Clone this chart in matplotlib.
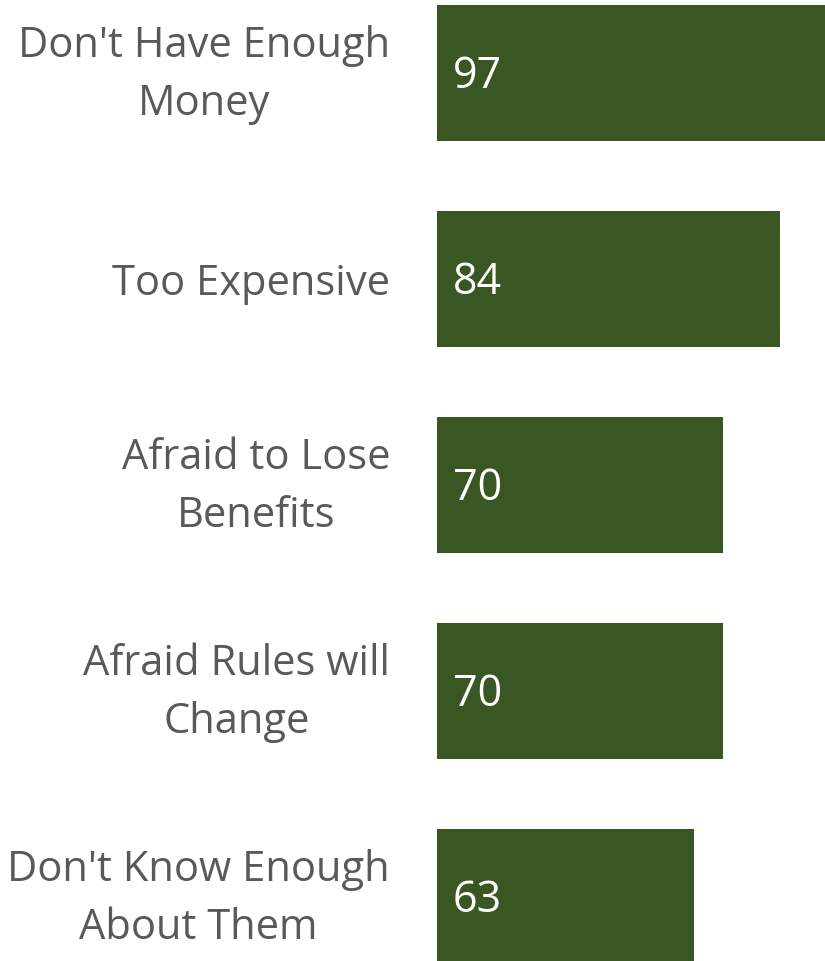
import matplotlib.pyplot as plt

reasons = ["Don't Have Enough\nMoney", "Too Expensive", "Afraid to Lose\nBenefits",
           "Afraid Rules will\nChange", "Don't Know Enough\nAbout Them"]
counts = [97, 84, 70, 70, 63]

bar_color = "#3A5723"
label_color = "#595959"

plt.rcParams['font.family'] = ['Open Sans', 'DejaVu Sans']

fig = plt.figure(figsize=(8.25, 9.61), dpi=100)
ax = fig.add_axes([437 / 825, 0, 1 - 437 / 825, 1])

pos = list(range(len(reasons)))
ax.barh(pos, counts, height=0.66, color=bar_color)

# bars scale at ~4.08 px per unit, the longest one runs off the edge
ax.set_xlim(0, 388 / 4.08)
ax.set_ylim((961 - 73) / 206, -73 / 206)

for y, v in zip(pos, counts):
    ax.annotate(str(v), xy=(0, y), xytext=(16, -4), textcoords='offset pixels',
                ha='left', va='center', color='white', fontsize=31)

# category names sit left of the bars, centred line by line
for y, name in zip(pos, reasons):
    dy = 11 if "\n" in name else 0
    ax.annotate(name, xy=(0, y), xytext=(-47, dy), textcoords='offset pixels',
                ha='right', va='center_baseline', multialignment='center',
                color=label_color, fontsize=30, linespacing=1.5,
                annotation_clip=False)

ax.set_yticks([])
ax.set_xticks([])
for s in ax.spines.values():
    s.set_visible(False)

fig.savefig("out.png", dpi=100)
